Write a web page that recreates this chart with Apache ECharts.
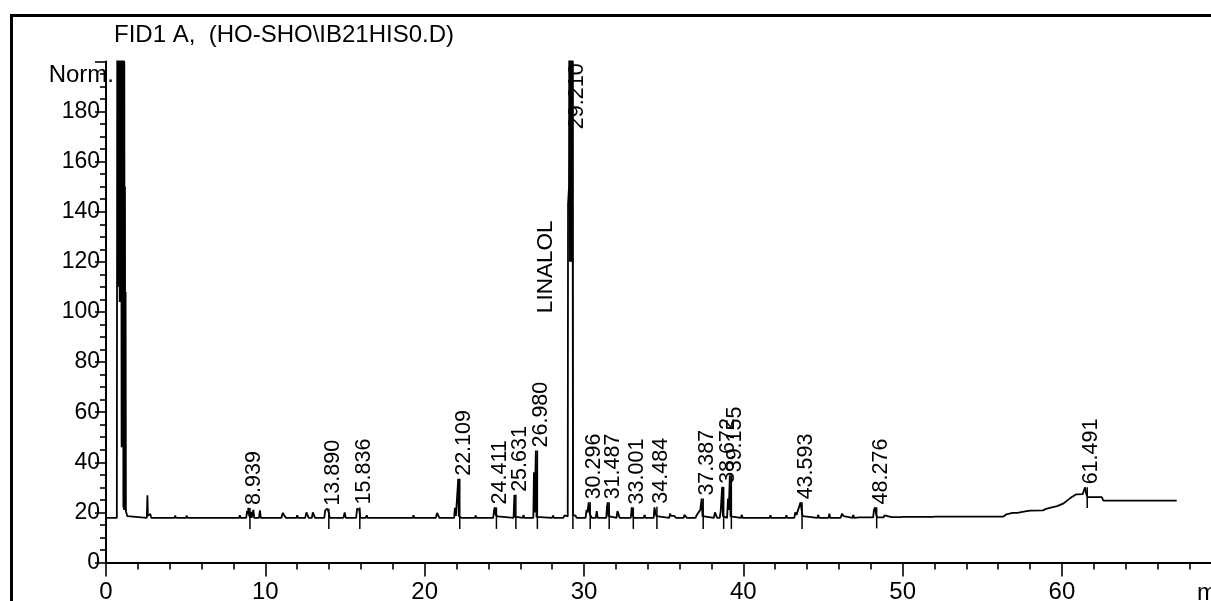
<!DOCTYPE html>
<html><head><meta charset="utf-8">
<script src="https://cdn.jsdelivr.net/npm/echarts@6/dist/echarts.min.js"></script>
<style>html,body{margin:0;padding:0;background:#fff}#c{width:1211px;height:601px}</style>
</head><body><div id="c"></div>
<script>
// ---------- data ----------
const TITLE = 'FID1 A,  (HO-SHO\\IB21HIS0.D)';
const Y_NAME = 'Norm.';
const X_NAME = 'min';
const xTickLabels = [0, 10, 20, 30, 40, 50, 60];
const yTickLabels = [0, 20, 40, 60, 80, 100, 120, 140, 160, 180];

// chromatogram trace [time (min), signal]
const trace = [
 [0, 17.8], [0.68, 17.8],
 [0.71, 240], [0.74, 110], [0.77, 240], [0.80, 110], [0.83, 240], [0.86, 104], [0.89, 240], [0.92, 104],
 [0.95, 240], [0.98, 46], [1.0, 240], [1.03, 46], [1.06, 240], [1.09, 22], [1.11, 240], [1.13, 21],
 [1.15, 200], [1.17, 21], [1.19, 150], [1.21, 21], [1.23, 108], [1.25, 20.5],
 [1.3, 21], [1.34, 18.5], [1.4, 17.8],
 [2.56, 17.8], [2.6, 26.8], [2.63, 18.6], [2.74, 18.6], [2.78, 19.4], [2.84, 17.8],
 [4.3, 17.8], [4.34, 18.7], [4.4, 17.8],
 [5.02, 17.8], [5.06, 18.7], [5.12, 17.8],
 [7.5, 17.8], [7.55, 18.5], [7.6, 17.8],
 [8.35, 17.8], [8.4, 18.8], [8.45, 17.8],
 [8.8, 17.8], [8.85, 20.5], [8.9, 19.2], [8.939, 21.8], [8.99, 18.6], [9.06, 17.8], [9.1, 20.2], [9.14, 17.8],
 [9.2, 17.8], [9.25, 21], [9.3, 17.8], [9.6, 17.8], [9.66, 20.8], [9.72, 17.8],
 [11.0, 17.8], [11.1, 19.8], [11.2, 18.6], [11.3, 17.8],
 [11.95, 17.8], [12.0, 18.8], [12.06, 17.8],
 [12.5, 17.8], [12.58, 20], [12.66, 19.5], [12.72, 17.8],
 [12.92, 17.8], [12.98, 20], [13.06, 20], [13.12, 17.8],
 [13.7, 17.8], [13.76, 20.8], [13.89, 21.5], [13.98, 20], [14.04, 17.8],
 [14.9, 17.8], [14.98, 20], [15.05, 17.8],
 [15.7, 17.8], [15.76, 21.5], [15.836, 22], [15.9, 21], [15.96, 17.8],
 [16.3, 17.8], [16.36, 18.8], [16.42, 17.8],
 [19.25, 17.8], [19.3, 18.8], [19.35, 17.8],
 [20.7, 17.8], [20.78, 19.8], [20.86, 19.5], [20.92, 17.8],
 [21.85, 17.8], [21.9, 21.8], [21.96, 18.6], [22.07, 18.6], [22.109, 33.4], [22.14, 18.6], [22.25, 18.8], [22.3, 17.8],
 [23.15, 17.8], [23.2, 18.7], [23.25, 17.8],
 [24.3, 17.8], [24.36, 21], [24.411, 22], [24.46, 19], [24.6, 18.4], [24.66, 19], [24.72, 17.8],
 [25.58, 17.8], [25.631, 27], [25.67, 18.3], [25.74, 17.8],
 [26.15, 17.8], [26.2, 18.9], [26.26, 17.8],
 [26.82, 17.8], [26.86, 36], [26.9, 20], [26.94, 20], [26.98, 44.7], [27.02, 18.2], [27.1, 17.8],
 [28.0, 17.8], [28.06, 18.7], [28.12, 17.8],
 [28.7, 17.8], [28.78, 18.8], [28.84, 18.4], [28.98, 18.4],
 [29.0, 143], [29.06, 150], [29.09, 260], [29.12, 120], [29.15, 260], [29.18, 120], [29.21, 260], [29.24, 120], [29.27, 260],
 [29.31, 19], [29.38, 18.8], [29.48, 18.6], [29.54, 17.8],
 [30.1, 17.8], [30.16, 21], [30.22, 20], [30.296, 24], [30.36, 19.5], [30.42, 19.5], [30.48, 17.8],
 [30.74, 17.8], [30.8, 20.5], [30.86, 17.8],
 [31.4, 17.8], [31.44, 22], [31.487, 24], [31.54, 18.5], [31.6, 17.8],
 [32.04, 17.8], [32.1, 20.5], [32.18, 19], [32.24, 17.8],
 [32.94, 17.8], [33.001, 22], [33.05, 19], [33.12, 17.8],
 [33.75, 17.8], [33.8, 19], [33.86, 17.8],
 [34.38, 17.8], [34.42, 22], [34.484, 22.3], [34.54, 18.5], [34.6, 17.8],
 [35.35, 17.8], [35.4, 19.5], [35.46, 18.6], [35.66, 18.6], [35.72, 19], [35.78, 17.8],
 [36.25, 17.8], [36.3, 19], [36.4, 18.8], [36.46, 17.8],
 [37.0, 17.8], [37.08, 19], [37.2, 19.5], [37.3, 21], [37.387, 25.5], [37.44, 18.5], [37.5, 17.8],
 [38.15, 17.8], [38.22, 20], [38.3, 19.5], [38.36, 17.8],
 [38.52, 17.8], [38.58, 20.5], [38.62, 20], [38.672, 30.2], [38.72, 18.5], [38.8, 17.8],
 [38.98, 17.8], [39.04, 25.5], [39.09, 21], [39.155, 34.8], [39.2, 18.4], [39.28, 17.8],
 [39.85, 17.8], [39.9, 19], [39.96, 17.8],
 [41.65, 17.8], [41.7, 18.8], [41.76, 17.8],
 [42.65, 17.8], [42.7, 18.8], [42.76, 17.8],
 [43.2, 17.8], [43.26, 20], [43.34, 19], [43.44, 21], [43.5, 21], [43.593, 24], [43.66, 21], [43.72, 18.5], [43.78, 17.8],
 [44.65, 17.8], [44.7, 19], [44.76, 17.8],
 [45.35, 17.8], [45.4, 19.5], [45.46, 17.8],
 [46.1, 17.8], [46.2, 19.5], [46.3, 18.5], [46.36, 17.8],
 [46.85, 17.8], [46.9, 19], [46.96, 17.8],
 [47.3, 18.0], [47.4, 18.6], [47.5, 18.0],
 [48.15, 18.0], [48.2, 21], [48.276, 22], [48.34, 19], [48.4, 18.0],
 [48.8, 18.0], [48.86, 18.8], [48.95, 18.1], [49.3, 18.1], [49.36, 18.8], [49.45, 18.1],
 [49.9, 18.1], [49.96, 18.8], [50.05, 18.2], [50.3, 18.2], [50.36, 18.8], [50.5, 18.2],
 [50.9, 18.2], [50.96, 18.8], [51.1, 18.2],
 [51.9, 18.2], [51.96, 18.9], [52.05, 18.3], [52.4, 18.3], [52.46, 18.7], [52.55, 18.3],
 [56.3, 18.3], [56.36, 18.9], [56.5, 19.2], [56.6, 19.6], [56.9, 19.8], [57.2, 19.8], [57.3, 20.3],
 [57.6, 20.3], [58.0, 20.7], [58.8, 20.8], [59.0, 21.4], [59.3, 21.9], [59.7, 22.5], [60.1, 23.6],
 [60.5, 25.6], [60.9, 27.2], [61.3, 27.3], [61.45, 30], [61.52, 27.6], [61.6, 26.1], [62.5, 26.1],
 [62.6, 24.7], [67.2, 24.7]
];

// integrated peaks: retention time, apex height, local baseline, label text
const peakRT     = [8.939, 13.890, 15.836, 22.109, 24.411, 25.631, 26.980, 29.210, 30.296, 31.487, 33.001, 34.484, 37.387, 38.672, 39.155, 43.593, 48.276, 61.491];
const peakHeight = [21.8, 21.5, 22, 33.4, 22, 27, 44.7, 260, 24, 24, 22, 22.3, 25.5, 30.2, 34.8, 24, 22, 30];
const peakBase   = [17.8, 17.8, 17.8, 17.8, 17.8, 17.8, 17.8, 17.8, 17.8, 17.8, 17.8, 17.8, 17.8, 17.8, 17.8, 17.8, 18.0, 26.1];
const peakLabel  = ['8.939', '13.890', '15.836', '22.109', '24.411', '25.631', '26.980', '29.210', '30.296', '31.487', '33.001', '34.484', '37.387', '38.672', '39.155', '43.593', '48.276', '61.491'];

const compoundName = ['LINALOL'];
const compoundRT   = [29.210];

// ---------- chart ----------
const FONT = '"Liberation Sans", Arial, sans-serif';
const Y_MAX = 200, X_MAX = 70;
const NAME_LEVEL = 118; // vertical placement of compound name (axis units)

const chart = echarts.init(document.getElementById('c'), null, {renderer: 'canvas'});

const peakData = peakRT.map((t, i) => [t, peakHeight[i], peakBase[i], i]);

chart.setOption({
  animation: false,
  backgroundColor: '#fff',
  grid: {left: 106, top: 61.4, right: -10.3, bottom: 38.5, containLabel: false, outerBoundsMode: 'none'},
  xAxis: {
    type: 'value', min: 0, max: X_MAX, interval: 10,
    axisLine: {show: true, onZero: false, lineStyle: {color: '#000', width: 2}},
    axisTick: {show: true, length: 14, lineStyle: {color: '#000', width: 1.6}},
    minorTick: {show: true, splitNumber: 5, length: 7, lineStyle: {color: '#000', width: 1.6}},
    splitLine: {show: false},
    axisLabel: {
      margin: 18, color: '#000', fontSize: 24, fontFamily: FONT,
      formatter: v => (xTickLabels.indexOf(v) >= 0 ? String(v) : '')
    }
  },
  yAxis: {
    type: 'value', min: 0, max: Y_MAX, interval: 20,
    axisLine: {show: true, onZero: false, lineStyle: {color: '#000', width: 2}},
    axisTick: {show: true, length: 11, lineStyle: {color: '#000', width: 1.6}},
    minorTick: {show: true, splitNumber: 4, length: 6, lineStyle: {color: '#000', width: 1.6}},
    splitLine: {show: false},
    axisLabel: {
      margin: 6, color: '#000', fontSize: 23, fontFamily: FONT,
      formatter: v => (yTickLabels.indexOf(v) >= 0 ? String(v) : '')
    }
  },
  graphic: [
    {type: 'rect', silent: true, shape: {x: 11.5, y: 15.5, width: 1400, height: 800},
     style: {fill: null, stroke: '#000', lineWidth: 3}},
    {type: 'text', x: 114, y: 35, silent: true,
     style: {text: TITLE, font: '24px ' + FONT, fill: '#000', textAlign: 'left', textVerticalAlign: 'middle', align: 'left', verticalAlign: 'middle'}},
    {type: 'text', x: 114, y: 75, silent: true,
     style: {text: Y_NAME, font: '24px ' + FONT, fill: '#000', textAlign: 'right', textVerticalAlign: 'middle', align: 'right', verticalAlign: 'middle'}},
    {type: 'text', x: 1197, y: 593, silent: true,
     style: {text: X_NAME, font: '24px ' + FONT, fill: '#000', textAlign: 'left', textVerticalAlign: 'middle', align: 'left', verticalAlign: 'middle'}}
  ],
  series: [
    {
      type: 'line', data: trace, showSymbol: false, symbol: 'none', clip: true,
      lineStyle: {color: '#000', width: 1.8}, z: 3, silent: true
    },
    {
      // integration markers
      type: 'custom', data: peakData, silent: true, z: 4,
      renderItem: (params, api) => {
        const t = api.value(0), h = Math.min(api.value(1), Y_MAX), b = api.value(2);
        const top = api.coord([t, h]);
        const base = api.coord([t, b]);
        return {type: 'line', shape: {x1: top[0] + 1.5, y1: top[1], x2: base[0] + 1.5, y2: base[1] + 11},
                style: {stroke: '#000', lineWidth: 1.5}};
      }
    },
    {
      // retention time labels
      type: 'custom', data: peakData, silent: true, z: 5,
      renderItem: (params, api) => {
        const t = api.value(0), h = api.value(1), i = api.value(3);
        const clipped = h > Y_MAX;
        const p = api.coord([t, Math.min(h, Y_MAX)]);
        return {
          type: 'text', x: p[0] + 5.5, y: clipped ? p[1] + 2 : p[1] - 3, rotation: Math.PI / 2,
          style: {text: peakLabel[i], font: '21.5px ' + FONT, fill: '#000',
                  align: clipped ? 'right' : 'left', textAlign: clipped ? 'right' : 'left',
                  verticalAlign: 'middle', textVerticalAlign: 'middle'}
        };
      }
    },
    {
      // compound names
      type: 'custom', data: compoundRT.map((t, i) => [t, NAME_LEVEL, i]), silent: true, z: 5,
      renderItem: (params, api) => {
        const p = api.coord([api.value(0), api.value(1)]);
        return {
          type: 'text', x: p[0] - 26, y: p[1], rotation: Math.PI / 2,
          style: {text: compoundName[api.value(2)], font: '22.5px ' + FONT, fill: '#000',
                  align: 'center', textAlign: 'center', verticalAlign: 'middle', textVerticalAlign: 'middle'}
        };
      }
    }
  ]
});
</script></body></html>
